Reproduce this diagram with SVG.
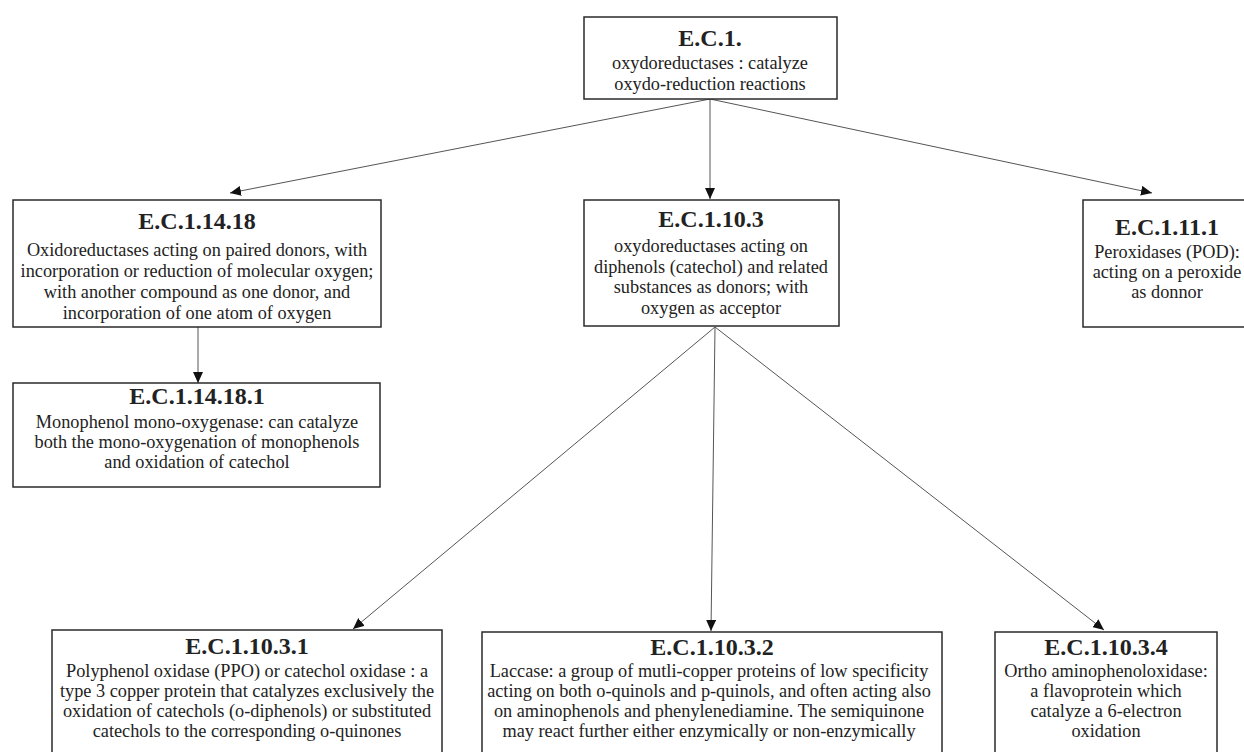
<svg xmlns="http://www.w3.org/2000/svg" width="1244" height="752" viewBox="0 0 1244 752">
<defs>
<style>
.box{fill:#fff;stroke:#2a2a2a;stroke-width:1.5}
.t{font-family:"Liberation Serif","Times New Roman",serif;font-weight:bold;font-size:24px;fill:#222;text-anchor:middle}
.b{font-family:"Liberation Serif","Times New Roman",serif;font-size:18.3px;fill:#222;text-anchor:middle}
.c{stroke:#555;stroke-width:1;fill:none;marker-end:url(#ah)}
</style>
<marker id="ah" markerUnits="userSpaceOnUse" markerWidth="12" markerHeight="10" refX="11" refY="5" orient="auto">
<path d="M0,0 L11,5 L0,10 Z" fill="#111"/>
</marker>
</defs>
<rect width="1244" height="752" fill="#fff"/>
<g id="connectors">
<line class="c" x1="710" y1="99" x2="230" y2="193"/>
<line class="c" x1="710" y1="99" x2="710" y2="199"/>
<line class="c" x1="710" y1="99" x2="1152" y2="193"/>
<line class="c" x1="198" y1="327" x2="198" y2="383"/>
<line class="c" x1="715" y1="327" x2="353" y2="629"/>
<line class="c" x1="715" y1="327" x2="711" y2="631"/>
<line class="c" x1="715" y1="327" x2="1104" y2="630"/>
</g>
<g id="ec1">
<rect class="box" x="584" y="17" width="253" height="82"/>
<text class="t" x="710" y="46">E.C.1.</text>
<text class="b" x="710" y="69">oxydoreductases : catalyze</text>
<text class="b" x="710" y="90">oxydo-reduction reactions</text>
</g>
<g id="ec1-14-18">
<rect class="box" x="13" y="200" width="368" height="127"/>
<text class="t" x="197" y="229">E.C.1.14.18</text>
<text class="b" x="197" y="256">Oxidoreductases acting on paired donors, with</text>
<text class="b" x="197" y="277">incorporation or reduction of molecular oxygen;</text>
<text class="b" x="197" y="298">with another compound as one donor, and</text>
<text class="b" x="197" y="319">incorporation of one atom of oxygen</text>
</g>
<g id="ec1-10-3">
<rect class="box" x="584" y="200" width="255" height="126"/>
<text class="t" x="711" y="227">E.C.1.10.3</text>
<text class="b" x="711" y="252">oxydoreductases acting on</text>
<text class="b" x="711" y="273">diphenols (catechol) and related</text>
<text class="b" x="711" y="293">substances as donors; with</text>
<text class="b" x="711" y="314">oxygen as acceptor</text>
</g>
<g id="ec1-11-1">
<rect class="box" x="1083" y="200" width="168" height="127"/>
<text class="t" x="1167" y="235">E.C.1.11.1</text>
<text class="b" x="1167" y="258">Peroxidases (POD):</text>
<text class="b" x="1167" y="278">acting on a peroxide</text>
<text class="b" x="1167" y="298">as donnor</text>
</g>
<g id="ec1-14-18-1">
<rect class="box" x="13" y="383" width="367" height="104"/>
<text class="t" x="197" y="404">E.C.1.14.18.1</text>
<text class="b" x="197" y="428">Monophenol mono-oxygenase: can catalyze</text>
<text class="b" x="197" y="448">both the mono-oxygenation of monophenols</text>
<text class="b" x="197" y="468">and oxidation of catechol</text>
</g>
<g id="ec1-10-3-1">
<rect class="box" x="52" y="630" width="390" height="140"/>
<text class="t" x="247" y="654">E.C.1.10.3.1</text>
<text class="b" x="247" y="677">Polyphenol oxidase (PPO) or catechol oxidase : a</text>
<text class="b" x="247" y="697">type 3 copper protein that catalyzes exclusively the</text>
<text class="b" x="247" y="717">oxidation of catechols (o-diphenols) or substituted</text>
<text class="b" x="247" y="737">catechols to the corresponding o-quinones</text>
</g>
<g id="ec1-10-3-2">
<rect class="box" x="482" y="632" width="460" height="140"/>
<text class="t" x="712" y="655">E.C.1.10.3.2</text>
<text class="b" x="709" y="677">Laccase: a group of mutli-copper proteins of low specificity</text>
<text class="b" x="709" y="697">acting on both o-quinols and p-quinols, and often acting also</text>
<text class="b" x="709" y="717">on aminophenols and phenylenediamine. The semiquinone</text>
<text class="b" x="709" y="737">may react further either enzymically or non-enzymically</text>
</g>
<g id="ec1-10-3-4">
<rect class="box" x="995" y="632" width="222" height="140"/>
<text class="t" x="1106" y="655">E.C.1.10.3.4</text>
<text class="b" x="1106" y="677">Ortho aminophenoloxidase:</text>
<text class="b" x="1106" y="697">a flavoprotein which</text>
<text class="b" x="1106" y="717">catalyze a 6-electron</text>
<text class="b" x="1106" y="737">oxidation</text>
</g>
</svg>
